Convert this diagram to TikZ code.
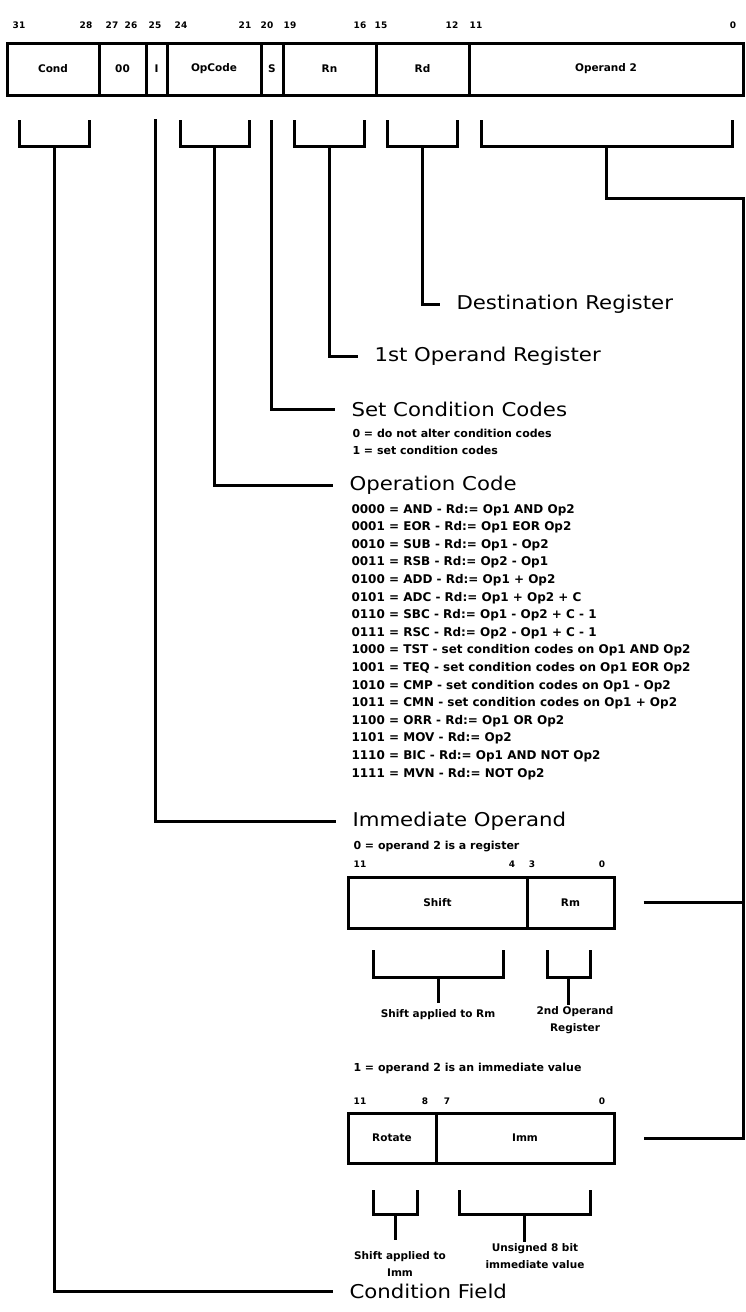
\documentclass[tikz,border=0pt]{standalone}
\usepackage{fontspec}
\setmainfont{DejaVu Sans}
\newfontfamily\headfont[FakeStretch=1.12]{DejaVu Sans}
\usetikzlibrary{positioning}

% bracket under a field; #5 names the foot of its stem
\newcommand\fieldbrace[5]{%
  \draw (#1,#3) |- (#2,#4) -- (#2,#3);
  \coordinate (#5) at ({(#1+#2)/2},#4);}

\begin{document}
\begin{tikzpicture}[x=1pt, y=-1pt, line width=3pt,
    every node/.style={inner sep=0pt},
    field/.style={draw, minimum height=52pt, font=\fontsize{10.5}{12}\bfseries},
    bitno/.style={font=\fontsize{9}{9}\bfseries},
    heading/.style={anchor=west, inner xsep=15pt, font=\headfont\fontsize{19}{22}\selectfont},
    note/.style={anchor=base west, font=\fontsize{11}{13}\bfseries},
    oprow/.style={anchor=base west, font=\fontsize{12}{14}\bfseries},
    caption/.style={align=center, font=\fontsize{10.5}{17}\bfseries}]
  \useasboundingbox (0,0) rectangle (746,1312);

  % instruction word
  \node[field, minimum width=92pt] (cond) at (53,69) {Cond};
  \node[field, minimum width=47pt] (zero) at (122.5,69) {00};
  \node[field, minimum width=21pt] (ibit) at (156.5,69) {I};
  \node[field, minimum width=94pt] (opcode) at (214,69) {OpCode};
  \node[field, minimum width=22pt] (sbit) at (272,69) {S};
  \node[field, minimum width=93pt] (rn) at (329.5,69) {Rn};
  \node[field, minimum width=93pt] (rd) at (422.5,69) {Rd};
  \node[field, minimum width=274pt] (optwo) at (606,69) {Operand 2};
  \foreach \n/\x in {31/19, 28/86, 27/112, 26/131, 25/155, 24/181, 21/245, 20/267,
      19/290, 16/360, 15/381, 12/452, 11/476, 0/733}
    \node[bitno] (bit\n) at (\x,25) {\n};

  \fieldbrace{19}{89}{120}{146}{condfoot}
  \fieldbrace{180}{249}{120}{146}{opfoot}
  \fieldbrace{294}{364}{120}{146}{rnfoot}
  \fieldbrace{387}{457}{120}{146}{rdfoot}
  \fieldbrace{481}{732}{120}{146}{optwofoot}
  \coordinate (ifoot) at (155,119);
  \coordinate (sfoot) at (271,120);

  % field names
  \node[heading] (dest) at (440,304) {Destination Register};
  \node[heading] (first) at (358,356) {1st Operand Register};
  \node[heading] (setcc) at (335,409) {Set Condition Codes};
  \node[heading] (opname) at (333,485) {Operation Code};
  \node[heading] (immop) at (336,821) {Immediate Operand};
  \node[heading] (condname) at (333,1291) {Condition Field};

  \draw (rdfoot) |- (dest.west);
  \draw (rnfoot) |- (first.west);
  \draw (sfoot) |- (setcc.west);
  \draw (opfoot) |- (opname.west);
  \draw (ifoot) |- (immop.west);
  \draw (condfoot) |- (condname.west);

  \node[note] (scc0) at (351,437) {0 = do not alter condition codes};
  \node[note] (scc1) at (351,454) {1 = set condition codes};

  \foreach \code/\txt [count=\i from 0] in {
      0000/AND - Rd:= Op1 AND Op2,
      0001/EOR - Rd:= Op1 EOR Op2,
      0010/SUB - Rd:= Op1 - Op2,
      0011/RSB - Rd:= Op2 - Op1,
      0100/ADD - Rd:= Op1 + Op2,
      0101/ADC - Rd:= Op1 + Op2 + C,
      0110/SBC - Rd:= Op1 - Op2 + C - 1,
      0111/RSC - Rd:= Op2 - Op1 + C - 1,
      1000/TST - set condition codes on Op1 AND Op2,
      1001/TEQ - set condition codes on Op1 EOR Op2,
      1010/CMP - set condition codes on Op1 - Op2,
      1011/CMN - set condition codes on Op1 + Op2,
      1100/ORR - Rd:= Op1 OR Op2,
      1101/MOV - Rd:= Op2,
      1110/BIC - Rd:= Op1 AND NOT Op2,
      1111/MVN - Rd:= NOT Op2}
    \node[oprow] (row\i) at (350,{513+17.6*\i}) {\code{} = \txt};

  % operand 2 as a register
  \node[note] (isreg) at (352,849) {0 = operand 2 is a register};
  \foreach \n/\x in {11/360, 4/512, 3/532, 0/602}
    \node[bitno] (rbit\n) at (\x,864) {\n};
  \node[field, minimum width=179pt, minimum height=51pt] (shift) at (437.5,902.5) {Shift};
  \node[field, minimum width=87pt, minimum height=51pt] (rm) at (570.5,902.5) {Rm};
  \fieldbrace{373}{503}{950}{977}{shiftfoot}
  \fieldbrace{547}{590}{950}{977}{rmfoot}
  \node[caption] (shiftcap) at (438,1015) {Shift applied to Rm};
  \node[caption] (rmcap) at (575,1020) {2nd Operand\\Register};
  \draw[shorten >=5pt] (shiftfoot) -- (shiftcap.north);
  \draw (rmfoot) -- (rmfoot |- rmcap.north);

  % operand 2 as an immediate value
  \node[note] (isimm) at (352,1071) {1 = operand 2 is an immediate value};
  \foreach \n/\x in {11/360, 8/425, 7/447, 0/602}
    \node[bitno] (ibit\n) at (\x,1101) {\n};
  \node[field, minimum width=88pt, minimum height=50pt] (rotate) at (392,1138) {Rotate};
  \node[field, minimum width=178pt, minimum height=50pt] (imm) at (525,1138) {Imm};
  \fieldbrace{373}{417}{1190}{1214}{rotfoot}
  \fieldbrace{459}{590}{1190}{1214}{immfoot}
  \node[caption] (rotcap) at (400,1264) {Shift applied to\\Imm};
  \node[caption] (immcap) at (535,1256.5) {Unsigned 8 bit\\immediate value};
  \draw[shorten >=10pt] (rotfoot) -- (rotfoot |- rotcap.north);
  \draw (immfoot) -- (immfoot |- immcap.north);

  % operand 2 bus
  \coordinate (bus) at (743,198);
  \draw (optwofoot) |- (bus) |- ([xshift=28pt]imm.east);
  \draw ([xshift=28pt]rm.east) -- (bus |- rm.east);
\end{tikzpicture}
\end{document}
